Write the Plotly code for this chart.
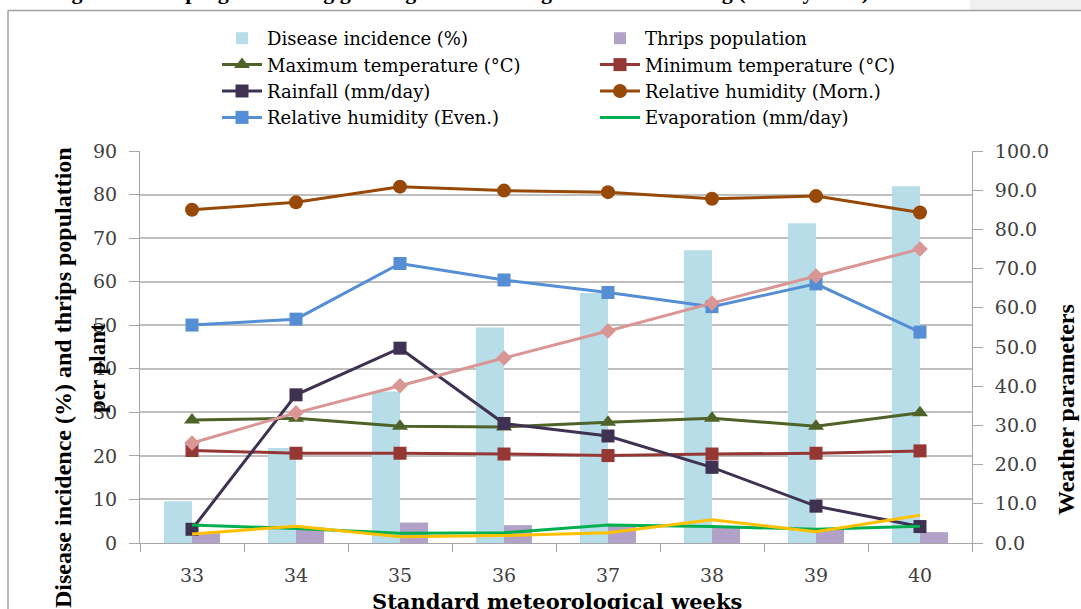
import plotly.graph_objects as go

weeks = ["33", "34", "35", "36", "37", "38", "39", "40"]
disease_incidence = [9.6, 21.8, 34.8, 49.5, 57.4, 67.2, 73.4, 81.9]
thrips_population = [2.4, 3.6, 4.7, 4.1, 4.0, 3.7, 3.0, 2.5]
max_temp = [31.4, 31.8, 29.8, 29.6, 30.8, 31.8, 29.8, 33.2]
min_temp = [23.6, 22.9, 22.9, 22.7, 22.3, 22.7, 22.9, 23.5]
rainfall = [3.5, 37.8, 49.7, 30.5, 27.3, 19.3, 9.4, 4.2]
rh_morn = [85.0, 86.9, 90.9, 89.9, 89.5, 87.8, 88.5, 84.3]
rh_even = [55.6, 57.1, 71.3, 67.1, 63.9, 60.3, 66.1, 53.8]
evaporation = [4.6, 3.7, 2.5, 2.6, 4.6, 4.2, 3.5, 4.3]
pink_series = [25.5, 33.2, 40.1, 47.2, 54.1, 61.2, 68.1, 75.0]
yellow_series = [2.3, 4.3, 1.6, 1.9, 2.6, 5.9, 2.9, 7.1]

W, H = 1081, 609
L, R, T, B = 140, 972, 151, 543


def px(x):
    return (x - L) / (R - L)


def py(y):
    return (B - y) / (B - T)


SERIF = "Liberation Serif, Times New Roman, serif"
WIDE = "DejaVu Serif, serif"

fig = go.Figure()
fig.add_trace(go.Bar(x=weeks, y=disease_incidence, name="Disease incidence (%)",
                     marker=dict(color="#B7DEE8", line=dict(width=0)), yaxis="y"))
fig.add_trace(go.Bar(x=weeks, y=thrips_population, name="Thrips population",
                     marker=dict(color="#B3A2C7", line=dict(width=0)), yaxis="y"))


def line(y, name, color, symbol=None, size=13, show=True):
    mode = "lines+markers" if symbol else "lines"
    fig.add_trace(go.Scatter(x=weeks, y=y, name=name, mode=mode, yaxis="y2",
                             line=dict(color=color, width=3),
                             marker=dict(symbol=symbol or "circle", size=size, color=color),
                             showlegend=show))


line(max_temp, "Maximum temperature (°C)", "#4F6228", "triangle-up", 14)
line(min_temp, "Minimum temperature (°C)", "#953735", "square", 13)
line(rainfall, "Rainfall (mm/day)", "#3F3151", "square", 13)
line(rh_morn, "Relative humidity (Morn.)", "#984807", "circle", 14)
line(rh_even, "Relative humidity (Even.)", "#558ED5", "square", 13)
line(evaporation, "Evaporation (mm/day)", "#00B050")
line(pink_series, "Series 9", "#D99694", "diamond", 12, show=False)
line(yellow_series, "Series 10", "#FFC000", show=False)

tickfont = dict(family=WIDE, size=19, color="#404040")
fig.update_layout(
    width=W, height=H,
    margin=dict(l=L, r=W - R, t=T, b=H - B, autoexpand=False),
    paper_bgcolor="white", plot_bgcolor="white",
    barmode="group", bargap=0.46, bargroupgap=0,
    font=dict(family=WIDE, size=19, color="#404040"),
    showlegend=True,
    legend=dict(orientation="h", x=px(217), xanchor="left", y=py(20), yanchor="top",
                entrywidth=323, font=dict(family=WIDE, size=18, color="black"),
                bgcolor="rgba(0,0,0,0)", itemwidth=40, tracegroupgap=0),
    xaxis=dict(type="category", showgrid=False, showline=True, linecolor="#a6a6a6",
               linewidth=1, ticks="outside", ticklen=8, tickcolor="#a6a6a6",
               tickson="boundaries", ticklabelstandoff=15, tickfont=tickfont),
    yaxis=dict(range=[0, 90], dtick=10, showgrid=True, gridcolor="#bfbfbf", gridwidth=1.5,
               showline=True, linecolor="#a6a6a6", ticks="outside", ticklen=10,
               tickcolor="#a6a6a6", zeroline=False, ticklabelstandoff=8, tickfont=tickfont),
    yaxis2=dict(range=[0, 100], dtick=10, tickformat=".1f", overlaying="y", side="right",
                showgrid=False, showline=True, linecolor="#a6a6a6", ticks="outside",
                ticklen=10, tickcolor="#a6a6a6", zeroline=False, ticklabelstandoff=8,
                tickfont=tickfont),
)

# frame and page decoration
fig.add_shape(type="rect", xref="paper", yref="paper", x0=px(970), x1=px(1090),
              y0=py(10), y1=py(-5), fillcolor="#f0f0f0", line=dict(width=0), layer="below")
fig.add_shape(type="line", xref="paper", yref="paper", x0=px(8), x1=px(1090),
              y0=py(10.5), y1=py(10.5), line=dict(color="#a0a0a0", width=1.5))
fig.add_shape(type="line", xref="paper", yref="paper", x0=px(8), x1=px(8),
              y0=py(10.5), y1=py(620), line=dict(color="#a0a0a0", width=1.5))

ann = dict(xref="paper", yref="paper", showarrow=False, xanchor="center", yanchor="middle")
fig.add_annotation(text="<b>Disease incidence (%) and thrips populattion</b>", x=px(63), y=py(378),
                   textangle=-90, font=dict(family=SERIF, size=24, color="black"), **ann)
fig.add_annotation(text="<b>per plant</b>", x=px(97), y=py(368),
                   textangle=-90, font=dict(family=SERIF, size=23, color="black"), **ann)
fig.add_annotation(text="<b>Weather parameters</b>", x=px(1066), y=py(410),
                   textangle=-90, font=dict(family=SERIF, size=24, color="black"), **ann)
fig.add_annotation(text="<b>Standard meteorological weeks</b>", x=px(557), y=py(601),
                   font=dict(family=WIDE, size=21, color="black"), **ann)
fig.add_annotation(text="<b>Fig. 3 Disease progress during growing season during 2nd date of sowing (15 July 2011)</b>",
                   x=px(460), y=py(-9),
                   font=dict(family=SERIF, size=22, color="black"), **ann)

fig.write_html("out.html", config={"displayModeBar": False},
               post_script="document.body.style.margin='0px';")
